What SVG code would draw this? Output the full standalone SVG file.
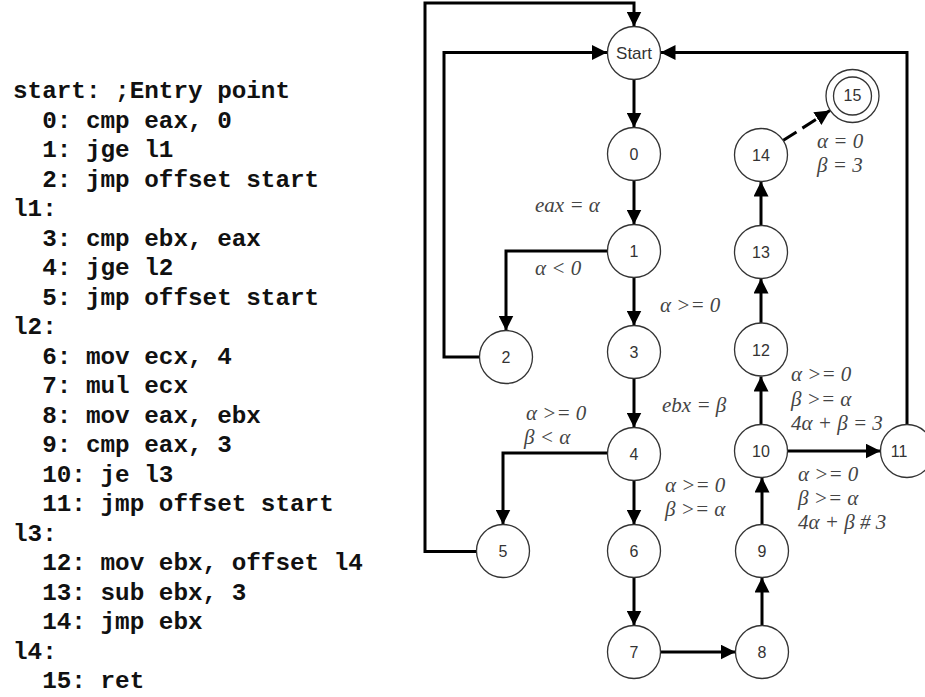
<svg xmlns="http://www.w3.org/2000/svg" width="925" height="697" viewBox="0 0 925 697">
<style>
.code{font-family:"Liberation Mono","Courier New",monospace;font-weight:bold;font-size:24.3px;fill:#111;white-space:pre}
.node circle{fill:#fff;stroke:#333;stroke-width:1.3}
.node text{font-family:"Liberation Sans",Arial,sans-serif;font-size:16px;fill:#333;text-anchor:middle}
.edge{fill:none;stroke:#000;stroke-width:3;marker-end:url(#ah)}
.lbl{font-family:"Liberation Serif","Times New Roman",serif;font-style:italic;font-size:21px;fill:#444}
</style>
<defs>
<marker id="ah" markerUnits="userSpaceOnUse" markerWidth="15" markerHeight="15" refX="15" refY="7.5" orient="auto" viewBox="0 0 15 15">
<path d="M0,0 L15,7.5 L0,15 z" fill="#000"/>
</marker>
</defs>
<rect width="925" height="697" fill="#fff"/>
<g id="code">
<text class="code" x="13" y="98">start: ;Entry point</text>
<text class="code" x="13" y="127.5">  0: cmp eax, 0</text>
<text class="code" x="13" y="157">  1: jge l1</text>
<text class="code" x="13" y="186.5">  2: jmp offset start</text>
<text class="code" x="13" y="216">l1:</text>
<text class="code" x="13" y="245.5">  3: cmp ebx, eax</text>
<text class="code" x="13" y="275">  4: jge l2</text>
<text class="code" x="13" y="304.5">  5: jmp offset start</text>
<text class="code" x="13" y="334">l2:</text>
<text class="code" x="13" y="363.5">  6: mov ecx, 4</text>
<text class="code" x="13" y="393">  7: mul ecx</text>
<text class="code" x="13" y="422.5">  8: mov eax, ebx</text>
<text class="code" x="13" y="452">  9: cmp eax, 3</text>
<text class="code" x="13" y="481.5">  10: je l3</text>
<text class="code" x="13" y="511">  11: jmp offset start</text>
<text class="code" x="13" y="540.5">l3:</text>
<text class="code" x="13" y="570">  12: mov ebx, offset l4</text>
<text class="code" x="13" y="599.5">  13: sub ebx, 3</text>
<text class="code" x="13" y="629">  14: jmp ebx</text>
<text class="code" x="13" y="658.5">l4:</text>
<text class="code" x="13" y="688">  15: ret</text>
</g>
<g id="connectors">
<path class="edge" d="M477,551.5 H425 V3 H634 V26.5"/>
<path class="edge" d="M479.5,357 H444 V52.5 H607"/>
<path class="edge" d="M907,425 V52.5 H660.5"/>
<path class="edge" d="M634,79.5 V127.5"/>
<path class="edge" d="M634,180.5 V224.5"/>
<path class="edge" d="M607.5,251 H506 V330.5"/>
<path class="edge" d="M634,277.5 V325.5"/>
<path class="edge" d="M634,378.5 V427.5"/>
<path class="edge" d="M607.5,453 H503 V524.5"/>
<path class="edge" d="M634,480.5 V524.5"/>
<path class="edge" d="M634,577.5 V625.5"/>
<path class="edge" d="M660.5,652 H735.5"/>
<path class="edge" d="M762,625.5 V577.5"/>
<path class="edge" d="M762,524.5 V477.5"/>
<path class="edge" d="M761,424.5 V376.5"/>
<path class="edge" d="M761,323 V278.5"/>
<path class="edge" d="M761,225.5 V181.5"/>
<path class="edge" d="M787.5,451 H880.5"/>
<path class="edge" d="M783,140.5 L830,110.5" stroke-dasharray="16 7"/>
</g>
<g id="labels">
<text class="lbl" x="535" y="212">eax = α</text>
<text class="lbl" x="535" y="275">α &lt; 0</text>
<text class="lbl" x="660" y="312">α &gt;= 0</text>
<text class="lbl" x="662" y="412">ebx = β</text>
<text class="lbl" x="526" y="420">α &gt;= 0</text>
<text class="lbl" x="524" y="444">β &lt; α</text>
<text class="lbl" x="665" y="492">α &gt;= 0</text>
<text class="lbl" x="665" y="516">β &gt;= α</text>
<text class="lbl" x="791" y="381">α &gt;= 0</text>
<text class="lbl" x="791" y="406">β &gt;= α</text>
<text class="lbl" x="791" y="430">4α + β = 3</text>
<text class="lbl" x="798" y="481">α &gt;= 0</text>
<text class="lbl" x="798" y="505">β &gt;= α</text>
<text class="lbl" x="798" y="529">4α + β # 3</text>
<text class="lbl" x="817" y="148">α = 0</text>
<text class="lbl" x="817" y="172">β = 3</text>
</g>
<g id="node-start" class="node"><circle cx="634" cy="53" r="26.5"/><text x="634" y="59" style="font-size:17px">Start</text></g>
<g id="node-0" class="node"><circle cx="634" cy="154" r="26.5"/><text x="634" y="160">0</text></g>
<g id="node-1" class="node"><circle cx="634" cy="251" r="26.5"/><text x="634" y="257">1</text></g>
<g id="node-2" class="node"><circle cx="506" cy="357" r="26.5"/><text x="506" y="363">2</text></g>
<g id="node-3" class="node"><circle cx="634" cy="352" r="26.5"/><text x="634" y="358">3</text></g>
<g id="node-4" class="node"><circle cx="634" cy="454" r="26.5"/><text x="634" y="460">4</text></g>
<g id="node-5" class="node"><circle cx="503" cy="551" r="26.5"/><text x="503" y="557">5</text></g>
<g id="node-6" class="node"><circle cx="634" cy="551" r="26.5"/><text x="634" y="557">6</text></g>
<g id="node-7" class="node"><circle cx="634" cy="652" r="26.5"/><text x="634" y="658">7</text></g>
<g id="node-8" class="node"><circle cx="762" cy="652" r="26.5"/><text x="762" y="658">8</text></g>
<g id="node-9" class="node"><circle cx="762" cy="551" r="26.5"/><text x="762" y="557">9</text></g>
<g id="node-10" class="node"><circle cx="761" cy="451" r="26.5"/><text x="761" y="457">10</text></g>
<g id="node-11" class="node"><circle cx="907" cy="451" r="26.5"/><text x="899" y="457">11</text></g>
<g id="node-12" class="node"><circle cx="761" cy="349.5" r="26.5"/><text x="761" y="355.5">12</text></g>
<g id="node-13" class="node"><circle cx="761" cy="252" r="26.5"/><text x="761" y="258">13</text></g>
<g id="node-14" class="node"><circle cx="761" cy="155" r="26.5"/><text x="761" y="161">14</text></g>
<g id="node-15" class="node"><circle cx="852.5" cy="96" r="26.5"/><circle cx="852.5" cy="96" r="19"/><text x="852.5" y="101">15</text></g>
</svg>
